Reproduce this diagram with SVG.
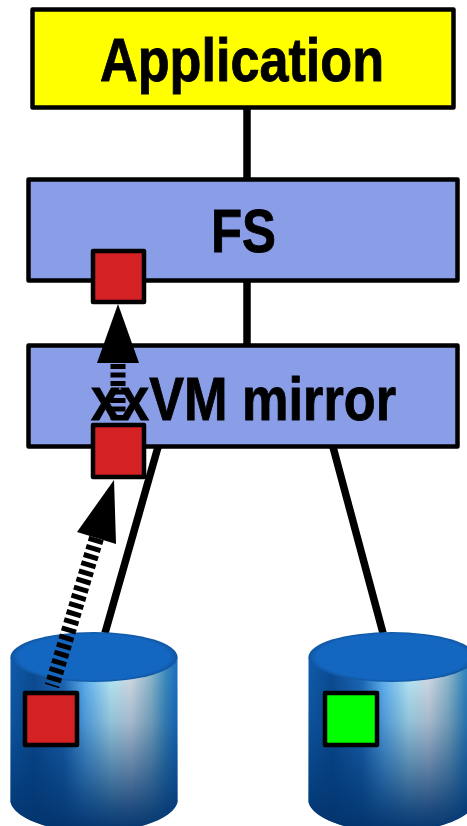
<svg xmlns="http://www.w3.org/2000/svg" width="467" height="826" viewBox="0 0 467 826">
<style>
.box{fill:#8a9ee8;stroke:#000;stroke-width:4.500;stroke-linejoin:round}
.link{stroke:#000;stroke-width:7.500;fill:none}
.blk{stroke:#000;stroke-width:4.500;stroke-linejoin:round}
.red{fill:#d32124}
.green{fill:#00ff00}
.dash{stroke:#000;stroke-width:15;stroke-dasharray:5 3.500;fill:none}
text{font-family:"Liberation Sans",Arial,sans-serif;font-weight:bold;fill:#000;stroke:#000;stroke-width:.9;font-size:62px;text-anchor:start}
</style>
<defs>
<linearGradient id="h" x1="0" x2="1" y1="0" y2="0">
<stop offset="0" stop-color="#0f5aa8"/>
<stop offset=".14" stop-color="#0b4a90"/>
<stop offset=".32" stop-color="#1c66b4"/>
<stop offset=".45" stop-color="#60b0ee"/>
<stop offset=".6" stop-color="#b4e6f2"/>
<stop offset=".72" stop-color="#cfd8e2"/>
<stop offset=".84" stop-color="#8ab4c8"/>
<stop offset=".93" stop-color="#3a88bc"/>
<stop offset="1" stop-color="#1a6cc0"/>
</linearGradient>
<linearGradient id="v" x1="0" x2="0" y1="0" y2="1">
<stop offset="0" stop-color="#02346e" stop-opacity="0"/>
<stop offset=".3" stop-color="#02346e" stop-opacity=".2"/>
<stop offset=".6" stop-color="#02346e" stop-opacity=".55"/>
<stop offset=".85" stop-color="#02346e" stop-opacity=".85"/>
<stop offset="1" stop-color="#02346e" stop-opacity="1"/>
</linearGradient>
<radialGradient id="t" cx=".5" cy=".5" r=".5">
<stop offset=".9" stop-color="#1467c0"/>
<stop offset="1" stop-color="#0f55a2"/>
</radialGradient>
<g id="disk">
<path d="M10.500 657V802C14 818 50 832 94 832S174 818 177.500 802V657Z" fill="url(#h)"/>
<path d="M10.500 675V802C14 818 50 832 94 832S174 818 177.500 802V675Z" fill="url(#v)"/>
<ellipse cx="94" cy="657" rx="83.500" ry="25" fill="url(#t)"/>
</g>
</defs>
<g id="connectors">
<path class="link" d="M247 108V179"/>
<path class="link" d="M247 281V345"/>
<path class="link" d="M158 447L105 633"/>
<path class="link" d="M333 447L383 633"/>
</g>
<g id="application"><rect class="box" x="32.500" y="9.500" width="421" height="98" style="fill:#ffff00"/>
<text x="100" y="81" textLength="284" lengthAdjust="spacingAndGlyphs">Application</text></g>
<g id="fs"><rect class="box" x="28.500" y="179.500" width="429" height="101"/>
<text x="211" y="252" textLength="65" lengthAdjust="spacingAndGlyphs">FS</text></g>
<g id="mirror"><rect class="box" x="28.500" y="345.500" width="429" height="101"/>
<text x="91" y="420" textLength="305" lengthAdjust="spacingAndGlyphs">xxVM mirror</text></g>
<g id="disk-left"><use href="#disk"/></g>
<g id="disk-right"><use href="#disk" x="298"/></g>
<g id="arrows">
<path class="dash" d="M118 364V425"/>
<path d="M118 304L97 363H139Z" fill="#000"/>
<path class="dash" d="M96.500 538L52 686"/>
<path d="M114 480L77 532L116 544Z" fill="#000"/>
</g>
<g id="block-fs"><rect class="blk red" x="93" y="251" width="51" height="51"/></g>
<g id="block-mirror"><rect class="blk red" x="93" y="425" width="51" height="52"/></g>
<g id="block-left"><rect class="blk red" x="25" y="693" width="52" height="52"/></g>
<g id="block-right"><rect class="blk green" x="325" y="693" width="52" height="52"/></g>
</svg>
